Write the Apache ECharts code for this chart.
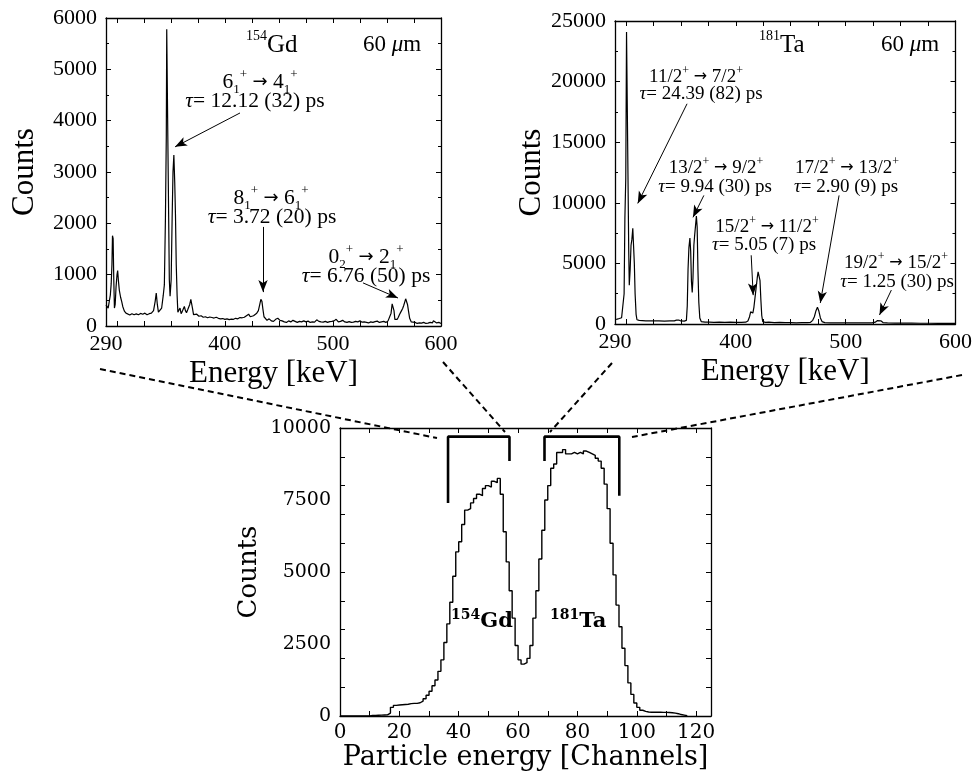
<!DOCTYPE html>
<html>
<head>
<meta charset="utf-8">
<script src="https://cdn.jsdelivr.net/npm/echarts@6/dist/echarts.min.js"></script>
<style>html,body{margin:0;padding:0;background:#fff}#c{width:975px;height:773px}</style>
</head>
<body>
<div id="c"></div>
<script>
// ---------- DATA ----------
// 154Gd gamma spectrum: [energy keV, counts]
const gdSpectrum = [
[290,410],[291,380],[292,350],[293,360],[294,600],[294.8,820],[295.5,1200],[296,1760],[296.6,1700],[297.2,900],[297.8,350],[298.5,420],[299.3,760],[300.2,1000],[300.8,1080],[301.5,880],[302.3,700],[303.5,560],[304.5,480],[305.5,380],[307,290],[308.5,250],[310,230],[312,215],[314,240],[316,220],[318,235],[320,220],[322,245],[324,230],[326,250],[328,220],[330,240],[332,250],[334,300],[335.5,480],[336.5,640],[337.5,420],[338.5,270],[340,290],[341.5,350],[343,600],[344,800],[345,2100],[345.8,3700],[346.2,5780],[346.7,5760],[347.2,3700],[348,2100],[348.6,900],[349.3,580],[350.3,900],[351.2,2100],[352,3000],[352.8,3330],[353.6,2800],[354.3,2150],[355,1200],[355.8,600],[356.5,270],[357.5,300],[358.5,350],[359.5,240],[360.5,280],[361.5,330],[362.5,380],[363.5,300],[364.5,260],[365.5,310],[366.5,280],[367.5,420],[368.5,520],[369.3,530],[370,350],[371,220],[372.5,200],[374,230],[376,190],[378,200],[380,170],[382,180],[384,160],[386,175],[388,165],[390,155],[392,170],[394,150],[396,140],[398,145],[400,130],[402,140],[404,125],[406,135],[408,130],[410,150],[412,140],[414,165],[416,160],[418,170],[420,200],[422,230],[423.5,180],[425,170],[426.5,200],[428,220],[429.5,250],[431,300],[432.3,420],[433.3,520],[434.3,480],[435.2,330],[436.2,180],[437.5,150],[439,110],[441,140],[443,100],[445,90],[447,130],[449,150],[451,110],[453,100],[455,80],[457,70],[459,100],[461,80],[463,110],[465,90],[467,70],[469,90],[471,80],[473,100],[475,80],[477,95],[479,70],[481,80],[483,75],[485,120],[487,90],[489,80],[491,75],[493,90],[495,70],[497,85],[499,90],[501,100],[503,130],[505,80],[507,90],[509,110],[511,80],[513,70],[515,85],[517,70],[519,75],[521,90],[523,80],[525,100],[527,75],[529,80],[531,70],[533,60],[535,80],[537,70],[539,85],[541,95],[543,70],[545,80],[547,90],[549,70],[551,100],[552.5,130],[553.8,250],[554.8,430],[555.7,450],[556.5,300],[557.3,130],[558.3,120],[559.5,130],[560.5,170],[561.5,220],[562.5,260],[563.5,300],[564.5,340],[565.5,400],[566.5,470],[567.3,530],[568,520],[569,420],[570,280],[571,150],[572.5,80],[574,60],[576,70],[578,50],[580,60],[582,55],[584,70],[586,50],[588,55],[590,70],[592,60],[593,100],[594,80],[596,60],[598,70],[600,50]
];
// 181Ta gamma spectrum: [energy keV, counts]
const taSpectrum = [
[290,380],[292,400],[294,450],[296,520],[297.5,600],[298.3,2500],[299,8700],[299.8,12000],[300.5,24100],[301.2,24100],[301.8,12400],[302.5,6000],[303,3200],[303.8,4500],[304.6,6500],[305.4,7000],[306.2,7900],[306.9,7900],[307.6,5000],[308.3,2500],[309.2,800],[310,350],[312,300],[315,280],[318,260],[322,270],[326,250],[330,260],[335,240],[340,250],[344,260],[346,320],[348,330],[350,250],[353,240],[355,300],[355.8,1500],[356.5,4500],[357.3,6300],[358.2,7100],[358.9,6000],[359.6,3500],[360.3,2600],[361,3800],[361.8,6500],[362.5,7300],[363.3,8100],[364.1,8900],[364.8,8000],[365.5,4500],[366.3,1800],[367.2,500],[368.5,200],[372,150],[376,160],[380,140],[385,150],[390,130],[395,150],[400,130],[405,140],[409,150],[411,250],[412.5,600],[413.5,1000],[414.5,1100],[415.5,900],[416.5,1400],[417.5,2200],[418.5,3000],[419.5,3800],[420.3,4300],[421.2,4300],[422,3600],[422.8,2000],[423.6,700],[424.5,200],[427,130],[430,150],[435,120],[440,130],[445,110],[450,120],[455,100],[460,110],[465,110],[468,140],[470,300],[471.5,600],[473,1100],[474.3,1380],[475.5,1100],[477,500],[478.5,200],[481,110],[486,100],[492,100],[498,90],[505,100],[512,90],[518,90],[524,100],[527,150],[529,280],[530.5,350],[532,260],[534,120],[538,90],[545,80],[552,70],[560,80],[568,60],[576,60],[584,50],[592,60],[600,50]
];
// Particle spectrum, counts per channel (channel 0..117)
const channelCounts = [
0,0,0,0,0,0,0,0,0,0,
20,20,25,30,35,40,100,300,370,380,
390,400,410,430,440,440,460,520,600,720,
860,1050,1250,1550,1950,2550,3200,3950,4850,5700,
6050,6650,7150,7200,7400,7550,7700,7650,7900,8000,
7950,8150,8100,8250,7700,6400,5350,4350,3400,2450,
1950,1800,1850,2000,2450,3400,4350,5450,6450,7500,
8000,8600,8750,9150,9150,9250,9100,9100,9150,9100,
9150,9100,9200,9150,9100,9050,8950,8850,8600,8050,
7200,6000,4900,3850,3100,2350,1750,1150,750,450,
300,200,160,140,130,130,130,130,125,125,
120,115,100,80,50,30,10,0
];
// Gate brackets in the particle spectrum: [channel, counts]
const gdGate = [[36.4,7400],[36.4,9700],[57.1,9700],[57.1,8850]];
const taGate = [[68.9,8850],[68.9,9700],[94.1,9700],[94.1,7650]];
// Arrows (from, to) in data coords
const gdArrows = [[[414,4150],[353.9,3490]],[[435.3,1930],[435.3,660]],[[527.8,840],[560.2,545]]];
const taArrows = [[[355.6,18170],[310.7,9950]],[[370.9,10610],[361,8800]],[[414,5670],[415.8,2380]],[[494,10610],[476.9,1730]],[[541.6,2800],[530.8,740]]];
// Tick labels
const energyLabels = [290,400,500,600];
const energyTicks = [300,325,350,375,400,425,450,475,500,525,550,575];
const channelLabels = [0,20,40,60,80,100,120];
const channelTicks = [10,20,30,40,50,60,70,80,90,100,110,120];
const bottomCountLabels = [0,2500,5000,7500,10000];

// ---------- CHART ----------
const SERIF = '"Liberation Serif", "Times New Roman", serif';
const SERIF2 = '"DejaVu Serif", serif';
const chart = echarts.init(document.getElementById('c'));
const plain = v => String(v);

function xAx(grid, pos, show, name, font, fs, labels, ticks, min, max, nameGap, nameFs) {
  return {
    type: 'value', gridIndex: grid, position: pos, min: min, max: max,
    axisLine: {show: true, onZero: false, lineStyle: {color: '#000', width: 1.3}},
    axisTick: {show: true, inside: true, length: 5, customValues: ticks, lineStyle: {color: '#000'}},
    axisLabel: {show: show, customValues: labels, color: '#000', fontFamily: font, fontSize: fs, margin: 7, formatter: plain},
    splitLine: {show: false},
    name: show ? name : '', nameLocation: 'middle', nameGap: nameGap,
    nameTextStyle: {color: '#000', fontFamily: font, fontSize: nameFs}
  };
}
function yAx(grid, pos, show, name, font, fs, max, interval, nameGap, nameFs, labels, minor) {
  const ax = {
    type: 'value', gridIndex: grid, position: pos, min: 0, max: max, interval: interval,
    axisLine: {show: true, onZero: false, lineStyle: {color: '#000', width: 1.3}},
    axisTick: {show: true, inside: true, length: 5, lineStyle: {color: '#000'}},
    minorTick: {show: minor, splitNumber: 2, length: 3, lineStyle: {color: '#000'}},
    axisLabel: {show: show, color: '#000', fontFamily: font, fontSize: fs, margin: 9, formatter: plain},
    splitLine: {show: false}, minorSplitLine: {show: false},
    name: show ? name : '', nameLocation: 'middle', nameGap: nameGap,
    nameTextStyle: {color: '#000', fontFamily: font, fontSize: nameFs}
  };
  if (labels) ax.axisLabel.customValues = labels;
  return ax;
}

function arrowMark(arr) {
  return {
    silent: true, animation: false,
    symbol: ['none', 'arrow'], symbolSize: [7, 12],
    lineStyle: {color: '#000', width: 1, type: 'solid'},
    label: {show: false},
    data: arr.map(a => [{coord: a[0]}, {coord: a[1]}])
  };
}

const richBase = (fs) => ({
  n: {fontFamily: SERIF, fontSize: fs, fill: '#000', lineHeight: fs + 6},
  ar: {fontFamily: '"DejaVu Sans", sans-serif', fontSize: Math.round(fs * 0.85), fill: '#000', lineHeight: fs + 6},
  i: {fontFamily: SERIF, fontSize: fs, fontStyle: 'italic', fill: '#000', lineHeight: fs + 6},
  sup: {fontFamily: SERIF, fontSize: Math.round(fs * 0.62), fill: '#000', verticalAlign: 'top', lineHeight: Math.round(fs * 0.55)},
  sub: {fontFamily: SERIF, fontSize: Math.round(fs * 0.62), fill: '#000', verticalAlign: 'bottom', lineHeight: Math.round(fs * 0.55)}
});
function txt(x, y, text, fs, align) {
  return {
    type: 'text', silent: true,
    style: {x: x, y: y, text: text, rich: richBase(fs), textAlign: align || 'center', textVerticalAlign: 'middle', fill: '#000'}
  };
}
function iso(x, y, mass, el, font, fsS, fsB, weight) {
  return {type: 'text', silent: true, style: {x: x, y: y, text: `{s|${mass}}{b|${el}}`,
    rich: {s: {fontFamily: font, fontSize: fsS, fontWeight: weight, verticalAlign: 'top', lineHeight: fsS},
           b: {fontFamily: font, fontSize: fsB, fontWeight: weight, lineHeight: fsB + 6}},
    textAlign: 'left', textVerticalAlign: 'middle'}};
}
const gdT = (a, as, b, bs) => `{n|${a}}{sub|${as}}{sup|+}{n| }{ar|\u2192}{n| ${b}}{sub|${bs}}{sup|+}`;
const taT = (a, b) => `{n|${a}}{sup|+}{n| }{ar|\u2192}{n| ${b}}{sup|+}`;
const tau = (s) => `{i|\u03c4}{n|= ${s}}`;
function dash(x1, y1, x2, y2) {
  return {type: 'line', silent: true, shape: {x1, y1, x2, y2}, style: {stroke: '#000', lineWidth: 2, lineDash: [6, 4]}};
}

const F1 = 21.5, F2 = 19;
const graphics = [
  iso(246, 45, '154', 'Gd', SERIF, 14, 25, 'normal'),
  txt(363, 45, '{n|60 }{i|\u03bc}{n|m}', 23, 'left'),
  iso(759, 45, '181', 'Ta', SERIF, 14, 25, 'normal'),
  txt(881, 45, '{n|60 }{i|\u03bc}{n|m}', 23, 'left'),
  // Gd annotations
  txt(260, 82, gdT('6', '1', '4', '1'), F1),
  txt(255, 101, tau('12.12 (32) ps'), F1),
  txt(271, 198, gdT('8', '1', '6', '1'), F1),
  txt(272, 217, tau('3.72 (20) ps'), F1),
  txt(366, 257, gdT('0', '2', '2', '1'), F1),
  txt(366, 276, tau('6.76 (50) ps'), F1),
  // Ta annotations
  txt(696, 77, taT('11/2', '7/2'), F2),
  txt(701, 94, tau('24.39 (82) ps'), F2),
  txt(716, 168, taT('13/2', '9/2'), F2),
  txt(715, 187, tau('9.94 (30) ps'), F2),
  txt(767, 227, taT('15/2', '11/2'), F2),
  txt(764, 245, tau('5.05 (7) ps'), F2),
  txt(847, 168, taT('17/2', '13/2'), F2),
  txt(846, 187, tau('2.90 (9) ps'), F2),
  txt(896, 263, taT('19/2', '15/2'), F2),
  txt(897, 282, tau('1.25 (30) ps'), F2),
  // bottom labels
  iso(451, 622, '154', 'Gd', SERIF2, 14, 21, 'bold'),
  iso(550, 622, '181', 'Ta', SERIF2, 14, 21, 'bold'),
  // dashed connectors
  dash(100, 369, 437, 438),
  dash(443, 362, 505, 432),
  dash(612, 363, 550, 432),
  dash(962, 375, 632, 437)
];

const option = {
  animation: false,
  backgroundColor: '#fff',
  grid: [
    {left: 106, top: 18, width: 335, height: 308},
    {left: 615, top: 21, width: 345, height: 303},
    {left: 340, top: 428, width: 371, height: 288}
  ],
  xAxis: [
    xAx(0, 'bottom', true, 'Energy [keV]', SERIF, 22, energyLabels, energyTicks, 290, 600, 32, 31),
    xAx(0, 'top', false, '', SERIF, 22, energyLabels, energyTicks, 290, 600, 0, 10),
    xAx(1, 'bottom', true, 'Energy [keV]', SERIF, 22, energyLabels, energyTicks, 290, 600, 32, 31),
    xAx(1, 'top', false, '', SERIF, 22, energyLabels, energyTicks, 290, 600, 0, 10),
    xAx(2, 'bottom', true, 'Particle energy [Channels]', SERIF2, 20, channelLabels, channelTicks, 0, 125, 28, 27),
    xAx(2, 'top', false, '', SERIF2, 20, channelLabels, channelTicks, 0, 125, 0, 10)
  ],
  yAxis: [
    yAx(0, 'left', true, 'Counts', SERIF, 22, 6000, 1000, 66, 31, null, true),
    yAx(0, 'right', false, '', SERIF, 22, 6000, 1000, 0, 10, null, true),
    yAx(1, 'left', true, 'Counts', SERIF, 22, 25000, 5000, 66, 31, null, true),
    yAx(1, 'right', false, '', SERIF, 22, 25000, 5000, 0, 10, null, true),
    yAx(2, 'left', true, 'Counts', SERIF2, 19, 10000, 1000, 78, 26, bottomCountLabels, false),
    yAx(2, 'right', false, '', SERIF2, 19, 10000, 1000, 0, 10, null, false)
  ],
  series: [
    {type: 'line', xAxisIndex: 0, yAxisIndex: 0, data: gdSpectrum, symbol: 'none', lineStyle: {color: '#000', width: 1.2}, markLine: arrowMark(gdArrows)},
    {type: 'line', xAxisIndex: 2, yAxisIndex: 2, data: taSpectrum, symbol: 'none', lineStyle: {color: '#000', width: 1.2}, markLine: arrowMark(taArrows)},
    {type: 'line', xAxisIndex: 4, yAxisIndex: 4, step: 'end', data: channelCounts.map((v, i) => [i, v]), symbol: 'none', lineStyle: {color: '#000', width: 1.4}},
    {type: 'line', xAxisIndex: 4, yAxisIndex: 4, data: gdGate, symbol: 'none', lineStyle: {color: '#000', width: 2.6}},
    {type: 'line', xAxisIndex: 4, yAxisIndex: 4, data: taGate, symbol: 'none', lineStyle: {color: '#000', width: 2.6}}
  ],
  graphic: graphics
};
chart.setOption(option);
</script>
</body>
</html>
